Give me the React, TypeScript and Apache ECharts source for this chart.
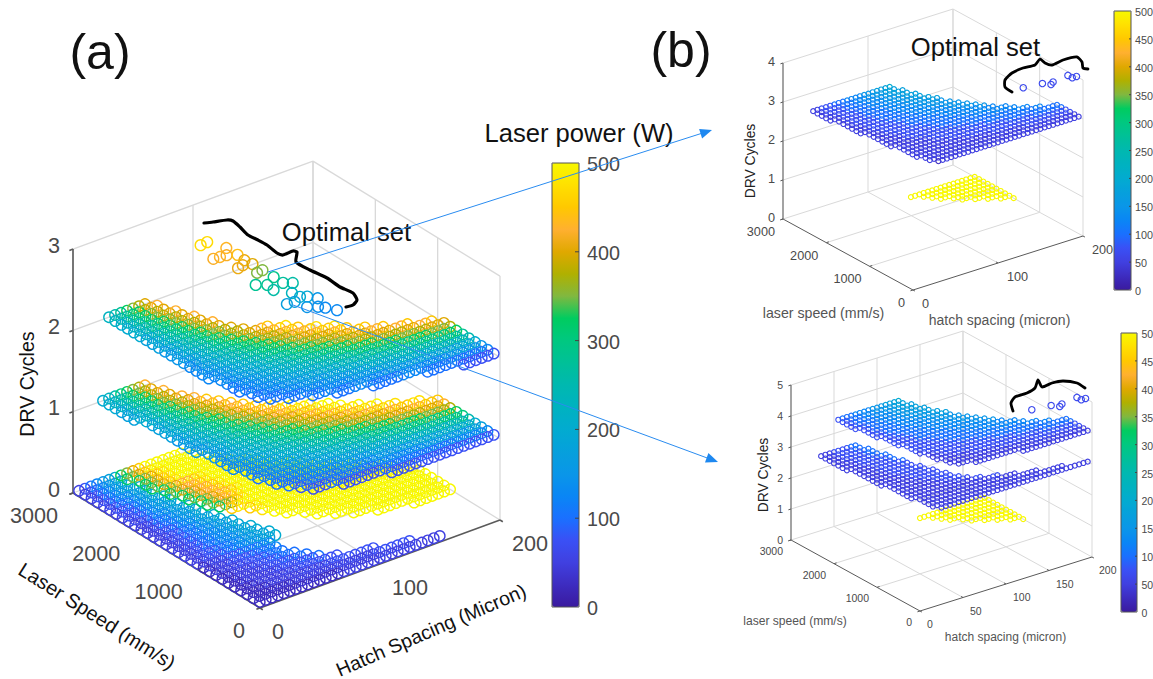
import React, { useEffect, useRef } from "react";
import * as echarts from "echarts";

// Laser power colour scale, 0..500 W in 25 W steps
const PARULA = ["#3a1a9e","#3d2cc0","#4040e0","#3a50f5","#1a70ff","#0a86f5","#0a96e8","#06a0dc","#02abd0","#00b2c0","#00b8b0","#00c098","#00c880","#00cc60","#80b840","#b0b000","#e0a800","#ffb030","#ffc800","#ffe000","#f8f800"];

// Rows: one string per speed row (from the top speed down, 100 mm/s apart).
// "start:runs": start = first hatch index (5 micron units); runs = power letter (a=0, b=25 ... u=500 W) + repeat count.
const A_LAYER_Z0 = ["1:cdefghi","1:cdefghi","1:cdefghi","1:cdefghhi","1:cdeffghi","1:cdeefghi","1:cddefghii","1:cddefgghi","1:cddefgghi","1:ccdeffghhi","1:ccdeefgghi","1:ccdeefgghi","1:ccddeffghhi","1:ccddeefgghi","1:ccddeeffgghi","1:ccddeeffgghi","1:ccddeeffgghhi","1:ccddeefffghhi","1:ccdddeeffgghhi","1:ccdddeeffgghhi","1:bcccdddeeeff","1:bcccddddeeef","1:bccccddddeee","1:bbccccddddeee","1:b2c5d5e2","1:b2c6d6e","1:b3c7d7","1:b4c10d8","1:b7c14d6","1:b14c17"];
const A_LAYER_Z0_HIGH = ["8:noqsu7","8:noqstu7","9:noqstu7","9:noqstu8","9:noqstu9","10:noqrrstu8","10:noqrrstu9","11:noqrrstu9","11:noqrrstu11","12:noqrrstu11","12:noqrstu13","13:nopstu15","14:stu19","16:stu18","17:tu20","18:u21","19:u22","21:u20","22:u19","24:u17","26:u15","29:u12","34:u7"];
const A_LAYER_Z1 = ["5:ijkmnopr","5:ijklnopq","5:ijklmnpqr","5:hiklmnopq","5:hijklnopqr","5:hijklmnopqr","6:ijklmnopqrs","6:hijklmnopqrs","6:hijklmnoppqrs","6:hijkklmnopqrrs","6:hiijklmnnopqrss","6:ghijkklmnoopqrsst","6:ghiijkllmnoopqrrstu","6:ghhijjklmmnoopqrrsttu","6:gghiijkklmmnoopqqrsstuu","7:ghhijjkklmmnooppqrrsttu","7:gghiijjkklmmnnoppqqrrsttu","7:fghhiijjkkllmnnooppqqrrsttu","7:fgghhiijjkkllmmnnooppqqrrsstt","7:ffgghhiijjjkkllmmnnoopppqqrrsstt","8:f2g2h2i3j2k3l2m2n3o2p2q3r2s3","8:f3g2h3i3j2k3l3m2n3o3p2q3r","8:ef3g3h3i3j3k3l3m3n3o3p2","9:ef4g3h3i4j3k4l3m4n3","9:e3f4g4h4i4j4k4l4m","10:e4f5g5h4i5j5k3","11:de6f6g6h5i6","12:d3e8f8g8h2","16:d7e12f6","23:d18"];
const A_LAYER_Z2 = ["6:jklnopq","6:jklmnpqr","6:ijlmnopq","6:ijklnopqr","6:ijklmnopq","6:ijklmnopqr","6:hijklmnopq","6:hijklmnopqr","6:hijkklmnopq","6:ghijklmnoopq","6:ghijkklmnoppq","6:ghiijklmmnopqqrs","6:gghijkklmnnopqqrst","6:fghiijkklmnnoppqrss","6:fghhijjkllmnnoppqrrst","6:fgghiijjkllmnnoopqqrsst","6:ffgghiijjkllmmnooppqqrss","7:fgghhiijjkklmmnnooppqqrss","7:ffgghhiijjkkllmmnnooppqqrrs","7:effgghhiijjkkkllmmnnooppqqqrrs","7:ef3g2h2i3j2k3l2m2n3o2p3q2r2s","8:ef3g3h2i3j2k3l3m2n3o3p2q3","8:e2f3g3h3i3j3k3l3m3n3o3p","9:e3f3g4h3i3j4k3l4m3n2","11:e3f4g4h3i4j4k4l4","14:e2f5g5h4i5j5k","17:e3f6g6h6i3","22:e5f8g6","30:e10f","35:d6"];
const B_LAYER_HIGH_POWER = ["25:u16","27:u14","28:u13","29:u12","31:u10","32:u9","34:u7","36:u5","38:u3","40:u"];
const B1_LAYER_Z3 = ["2:c2d3e3f4g3h3i","2:c2d4e3f3g4h3","2:c2d4e3f4g3h4","2:c3d3e4f4g3h3","2:c3d4e3f4g4h3","3:c2d4e4f4g4h2","3:c2d4e5f4g4h2","3:c2d5e4f5g4h2","3:c3d4e5f5g5","3:c3d5e5f5g5","3:c3d6e5f6g4","4:c3d6e5f6g4","4:c3d6e7f6g3","4:c4d7e6f7g2","4:c5d7e7f8","4:c5d8e8f8","4:c6d9e9f6","5:c7d10e10f4","5:c8d12e11f2","5:c10d14e12","5:c13d16e7","5:c18d18","6:c24d11","6:c35","7:bc33"];
const B2_LAYER_Z4 = ["6:de3f4g3h3i","6:d2e3f3g4h3","6:d2e3f4g3h4","6:d2e4f4g3h3","6:d3e3f4g4h3","7:d2e4f4g4h2","7:d2e5f4g4h2","7:d3e4f5g4h2","7:d3e5f5g5","8:d3e5f5g5","8:d4e5f6g4","8:d5e5f6g4","8:d5e7f6g3","9:d6e6f7g2","9:d7e7f8","9:d8e8f8","9:cd9e9f6","10:c2d10e10f4","10:c3d12e11f2","10:c5d14e12","11:c7d16e7","11:c12d18","12:c18d11","15:c26","25:c16"];
const B2_LAYER_Z3 = ["2:c3d4e2","2:c3d4e2","2:c3d5e2","2:c3d5e2","2:c4d4e2","2:c4d5e2","2:c4d6e","3:c4d5e","3:c4d6e","3:c4d7","3:c5d6","3:c5d7","3:c6d6","3:c7d6","4:c6d6","4:c7d6","4:c9d4","4:c10d4","4:c12d3","4:c15d2","5:c17d2","5:c22","5:c26","5:c31","6:c35"];

// Optimal set, panel (a), at 3 cycles
const A_OPT_SPEED = [2300,2310,2000,1990,2100,1980,1920,1700,1790,1720,1680,1510,1520,1320,1250,1340,1130,1190,1130,970,860,820,810,820,650,730,590,530,420];
const A_OPT_HATCH = [70,76,65,70,81,75,81,70,80,75,81,76,81,65,71,81,70,81,86,77,78,65,71,82,73,86,79,82,86];
const A_OPT_POWER = [470,470,420,430,430,420,440,410,410,410,400,350,350,280,280,290,260,270,260,230,200,170,170,190,150,150,140,130,130];
// Optimal set, panels (b)
const B_OPT_SPEED = [300,250,150,200,250,150,150];
const B_OPT_HATCH = [145,165,170,175,195,195,200];
const B_OPT_POWER = [65,65,65,65,65,65,65];

const SPEED_TICKS = [0,1000,2000,3000];
const HATCH_TICKS_WIDE = [0,100,200];
const HATCH_TICKS_FINE = [0,50,100,150,200];
const CYCLE_TICKS_A = [0,1,2,3];
const CYCLE_TICKS_B1 = [0,1,2,3,4];
const CYCLE_TICKS_B2 = [0,1,2,3,4,5];
const BAR_TICKS_A = [0,100,200,300,400,500];
const BAR_TICKS_B = [0,50,100,150,200,250,300,350,400,450,500];
// The lower colour bar's labels are cropped by the edge of the picture; this is what is visible of them.
const BAR_LABELS_B2 = ["0","50","10","15","20","25","30","35","40","45","50"];

const FONT = '"Liberation Sans", Arial, sans-serif';
const TICK = "#4a4a4a";

type Panel = { o: number[]; es: number[]; eh: number[]; ez: number; r: number; ro: number };
const PA: Panel = { o: [260, 608], es: [-187, -115], eh: [240, -88], ez: 81.3, r: 5.2, ro: 5.4 };
const PB1: Panel = { o: [913, 290], es: [-130, -71], eh: [170, -54], ez: 39, r: 2.5, ro: 3.2 };
const PB2: Panel = { o: [920, 611], es: [-129, -71], eh: [172, -54], ez: 31, r: 2.5, ro: 3.2 };

const project = (p: Panel, s: number, h: number, z: number) => [
  p.o[0] + (p.es[0] * s) / 3000 + (p.eh[0] * h) / 200,
  p.o[1] + (p.es[1] * s) / 3000 + (p.eh[1] * h) / 200 - p.ez * z,
];

function layer(p: Panel, rows: string[], topRow: number, z: number) {
  const out: number[][] = [];
  rows.forEach((row, i) => {
    const speed = (topRow - i) * 100;
    const [start, runs] = row.split(":");
    let idx = Number(start);
    for (const m of runs.matchAll(/([a-u])(\d*)/g)) {
      const power = (m[1].charCodeAt(0) - 97) * 25;
      const n = m[2] ? Number(m[2]) : 1;
      for (let k = 0; k < n; k++) {
        const [x, y] = project(p, speed, idx * 5, z);
        out.push([x, y, power, p.r]);
        idx++;
      }
    }
  });
  return out;
}

function frame(p: Panel, hTicks: number[], zTicks: number[], grid: number, axis: number, tl: number) {
  const zMax = zTicks[zTicks.length - 1];
  const out: any[] = [];
  const seg = (a: number[], b: number[], c: string, w: number) => {
    const u = project(p, a[0], a[1], a[2]);
    const v = project(p, b[0], b[1], b[2]);
    out.push([u[0], u[1], v[0], v[1], c, w]);
  };
  const G = "#d9d9d9";
  const A = "#5a5a5a";
  SPEED_TICKS.forEach((s) => {
    if (s > 0) seg([s, 0, 0], [s, 200, 0], G, grid);
    seg([s, 200, 0], [s, 200, zMax], G, grid);
  });
  hTicks.forEach((h) => {
    if (h > 0) seg([0, h, 0], [3000, h, 0], G, grid);
    seg([3000, h, 0], [3000, h, zMax], G, grid);
  });
  zTicks.forEach((z) => {
    if (z > 0) {
      seg([3000, 0, z], [3000, 200, z], G, grid);
      seg([0, 200, z], [3000, 200, z], G, grid);
    }
  });
  seg([0, 0, 0], [3000, 0, 0], A, axis);
  seg([0, 0, 0], [0, 200, 0], A, axis);
  seg([3000, 0, 0], [3000, 0, zMax], A, axis);
  SPEED_TICKS.forEach((s) => seg([s, 0, 0], [s, s === 0 || s === 3000 ? -tl : tl, 0], A, axis));
  hTicks.forEach((h) => seg([0, h, 0], [h === 0 || h === 200 ? -tl * 15 : tl * 15, h, 0], A, axis));
  zTicks.forEach((z) => seg([3000, 0, z], [3000, -tl, z], A, axis));
  return out;
}

const text = (t: string, x: number, y: number, size: number, fill: string, align = "center", rotation = 0) => ({
  type: "text", x, y, rotation, z: 100, silent: true,
  style: { text: t, fill, font: `${size}px ${FONT}`, textAlign: align, textVerticalAlign: "middle" },
});
const stroke = (pts: number[][], color: string, width: number, smooth = 0) => ({
  type: "polyline", z: 100, silent: true,
  shape: { points: pts, smooth },
  style: { stroke: color, lineWidth: width, fill: "none", lineCap: "round", lineJoin: "round" },
});

function axisTexts(p: Panel, hTicks: number[], zTicks: number[], size: number, sOff: number[], hOff: number[], zOff: number[]) {
  const out: any[] = [];
  SPEED_TICKS.forEach((s) => {
    const c = project(p, s, 0, 0);
    out.push(text(String(s), c[0] + sOff[0], c[1] + sOff[1], size, TICK, "right"));
  });
  hTicks.forEach((h) => {
    const c = project(p, 0, h, 0);
    out.push(text(String(h), c[0] + hOff[0], c[1] + hOff[1], size, TICK, "left"));
  });
  zTicks.forEach((z) => {
    const c = project(p, 3000, 0, z);
    out.push(text(String(z), c[0] + zOff[0], c[1] + zOff[1], size, TICK, "right"));
  });
  return out;
}

function bar(x: number, y: number, w: number, h: number, ticks: number[], labels: string[], labelX: number, size: number, tl: number) {
  const out: any[] = [
    { type: "rect", z: 100, silent: true, shape: { x, y, width: w, height: h }, style: { fill: "none", stroke: "#555", lineWidth: 1 } },
  ];
  ticks.forEach((t, i) => {
    const yy = y + h - (h * t) / 500;
    if (t > 0 && t < 500) out.push({ type: "line", z: 100, silent: true, shape: { x1: x + w - tl, y1: yy, x2: x + w, y2: yy }, style: { stroke: "#444", lineWidth: 1 } });
    out.push(text(labels[i], labelX, yy + 1, size, TICK, "left"));
  });
  return out;
}

const rings = (name: string, data: number[][], lw: number) => ({
  type: "custom", name, silent: true, clip: false, animation: false, encode: { x: 0, y: 1 }, data,
  renderItem: (_: any, api: any) => {
    const c = api.coord([api.value(0), api.value(1)]);
    return { type: "circle", shape: { cx: c[0], cy: c[1], r: api.value(3) }, style: { fill: "none", stroke: api.visual("color"), lineWidth: lw } };
  },
});

const colorBar = (i: number, left: number, top: number, w: number, h: number) => ({
  type: "continuous", seriesIndex: i, dimension: 2, min: 0, max: 500, left, top, itemWidth: w, itemHeight: h,
  calculable: false, hoverLink: false, padding: 0, inRange: { color: PARULA },
});

export default function App() {
  const ref = useRef<HTMLDivElement>(null);
  useEffect(() => {
    document.body.style.margin = "0";
    const chart = echarts.init(ref.current!, undefined, { renderer: "svg" });
    const optimal = (p: Panel, sp: number[], ha: number[], po: number[], z: number) =>
      sp.map((s, i) => { const c = project(p, s, ha[i], z); return [c[0], c[1], po[i], p.ro]; });
    const dataA = [
      ...layer(PA, A_LAYER_Z0, 30, 0), ...layer(PA, A_LAYER_Z0_HIGH, 30, 0),
      ...layer(PA, A_LAYER_Z1, 30, 1), ...layer(PA, A_LAYER_Z2, 30, 2),
      ...optimal(PA, A_OPT_SPEED, A_OPT_HATCH, A_OPT_POWER, 3),
    ];
    const dataB1 = [
      ...layer(PB1, B_LAYER_HIGH_POWER, 25, 0), ...layer(PB1, B1_LAYER_Z3, 25, 3),
      ...optimal(PB1, B_OPT_SPEED, B_OPT_HATCH, B_OPT_POWER, 4),
    ];
    const dataB2 = [
      ...layer(PB2, B_LAYER_HIGH_POWER, 25, 0), ...layer(PB2, B2_LAYER_Z3, 25, 3), ...layer(PB2, B2_LAYER_Z4, 25, 4),
      ...optimal(PB2, B_OPT_SPEED, B_OPT_HATCH, B_OPT_POWER, 5),
    ];
    const frames = [
      ...frame(PA, HATCH_TICKS_WIDE, CYCLE_TICKS_A, 1.3, 1.6, 3),
      ...frame(PB1, HATCH_TICKS_WIDE, CYCLE_TICKS_B1, 1, 1, 3),
      ...frame(PB2, HATCH_TICKS_FINE, CYCLE_TICKS_B2, 1, 1, 3),
    ];
    const graphic = [
      ...bar(552, 163, 27, 444, BAR_TICKS_A, BAR_TICKS_A.map(String), 587, 19.8, 4),
      ...bar(1114, 11, 17, 279, BAR_TICKS_B, BAR_TICKS_B.map(String), 1135, 10.8, 2),
      ...bar(1121, 333, 16, 279, BAR_TICKS_B, BAR_LABELS_B2, 1141.5, 10.5, 2),
      ...axisTexts(PA, HATCH_TICKS_WIDE, CYCLE_TICKS_A, 21.6, [-15, 22], [12, 23], [-13, -4]),
      ...axisTexts(PB1, HATCH_TICKS_WIDE, CYCLE_TICKS_B1, 12.7, [-8, 13], [9, 14], [-8, -1]),
      ...axisTexts(PB2, HATCH_TICKS_FINE, CYCLE_TICKS_B2, 10.5, [-8, 11], [7, 13], [-8, 0]),
      text("(a)", 100, 52, 50, "#111"),
      text("(b)", 681, 50, 50, "#111"),
      text("Laser power (W)", 579, 133, 25.6, "#111"),
      text("Optimal set", 346.5, 232, 25.6, "#111"),
      text("Optimal set", 975.5, 47, 25.6, "#111"),
      text("DRV Cycles", 27, 384, 19.6, "#111", "center", Math.PI / 2),
      text("Laser Speed (mm/s)", 97, 616, 20, "#111", "center", -0.564),
      text("Hatch Spacing (Micron)", 431, 630, 19.6, "#111", "center", 0.408),
      text("DRV Cycles", 750, 161, 13.9, "#222", "center", Math.PI / 2),
      text("laser speed (mm/s)", 823.5, 313, 14.2, "#555"),
      text("hatch spacing (micron)", 999.5, 320, 14, "#555"),
      text("DRV Cycles", 763, 475, 13.9, "#222", "center", Math.PI / 2),
      text("laser speed (mm/s)", 795, 621, 12.1, "#555"),
      text("hatch spacing (micron)", 1005.5, 637, 12, "#555"),
      stroke([[204,223],[213,222],[227,220],[233,221],[240,227],[248,235],[258,240],[267,245],[277,253],[283,255],[293,251],[297,252],[296,262],[310,270],[327,278],[340,287],[353,293],[357,300],[353,305],[346,307]], "#000", 3.2, 0.2),
      stroke([[1012,92],[1005,87],[1005,80],[1012,73],[1023,68],[1035,65],[1040,59],[1045,63],[1052,65],[1063,60],[1077,57],[1082,62],[1083,68],[1088,69]], "#000", 2.8, 0.2),
      stroke([[1013,411],[1011,403],[1015,397],[1027,393],[1035,388],[1038,380],[1042,387],[1052,383],[1063,381],[1077,383],[1085,388]], "#000", 2.8, 0.2),
      stroke([[268,272],[704,132.6]], "#2a8cf0", 1),
      stroke([[293,305],[708,458.3]], "#2a8cf0", 1),
      { type: "polygon", z: 100, silent: true, shape: { points: [[712,130],[702.1,138.5],[699.1,128.9]] }, style: { fill: "#1e88f0" } },
      { type: "polygon", z: 100, silent: true, shape: { points: [[718,462],[705,462.5],[708.4,453.1]] }, style: { fill: "#1e88f0" } },
    ];
    chart.setOption({
      animation: false,
      backgroundColor: "#fff",
      grid: { left: 0, right: 0, top: 0, bottom: 0 },
      xAxis: { type: "value", min: 0, max: 1153, show: false },
      yAxis: { type: "value", min: 0, max: 679, inverse: true, show: false },
      tooltip: { show: false },
      visualMap: [colorBar(1, 552, 163, 27, 444), colorBar(2, 1114, 11, 17, 279), colorBar(3, 1121, 333, 16, 279)],
      series: [
        {
          type: "custom", name: "frame", silent: true, clip: false, encode: { x: 0, y: 1 }, data: frames.map((f) => [f[0], f[1], f[2], f[3], f[5], f[4]]),
          dimensions: ["x1", "y1", "x2", "y2", "w", { name: "c", type: "ordinal" }],
          renderItem: (_: any, api: any) => {
            const a = api.coord([api.value(0), api.value(1)]);
            const b = api.coord([api.value(2), api.value(3)]);
            return { type: "line", shape: { x1: a[0], y1: a[1], x2: b[0], y2: b[1] }, style: { stroke: api.value(5), lineWidth: api.value(4), fill: "none" } };
          },
        },
        rings("a", dataA, 1.4),
        rings("b1", dataB1, 1.15),
        rings("b2", dataB2, 1.15),
      ],
      graphic,
    });
    return () => chart.dispose();
  }, []);
  return <div ref={ref} style={{ width: 1153, height: 679, overflow: "hidden" }} />;
}
